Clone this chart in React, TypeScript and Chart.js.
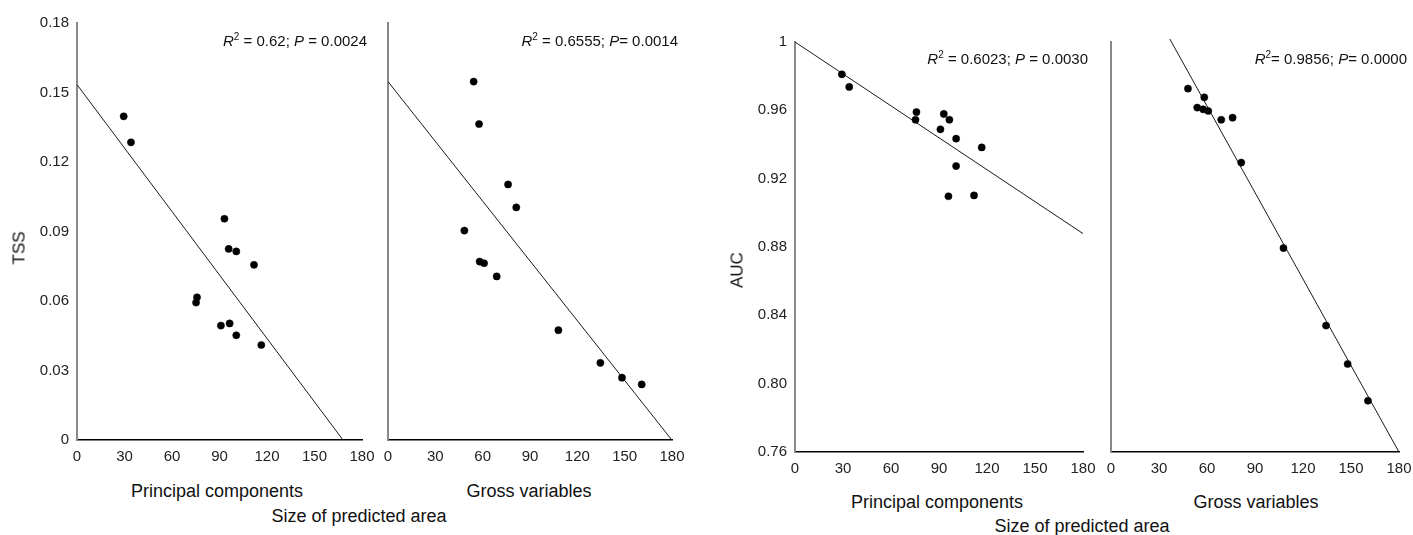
import React, { useEffect, useRef } from 'react';
import { Chart, registerables } from 'chart.js';

Chart.register(...registerables);

// ---------- data ----------
const xTickValues = [0, 30, 60, 90, 120, 150, 180];
const xTickLabels = ['0', '30', '60', '90', '120', '150', '180'];
const tssTickValues = [0, 0.03, 0.06, 0.09, 0.12, 0.15, 0.18];
const tssTickLabels = ['0', '0.03', '0.06', '0.09', '0.12', '0.15', '0.18'];
const aucTickValues = [0.76, 0.8, 0.84, 0.88, 0.92, 0.96, 1];
const aucTickLabels = ['0.76', '0.80', '0.84', '0.88', '0.92', '0.96', '1'];

const tssPcX = [29.5, 34.1, 93.1, 95.8, 100.6, 111.8, 75.8, 75.2, 90.9, 96.4, 100.6, 116.4];
const tssPcY = [0.1397, 0.1285, 0.0955, 0.0825, 0.0814, 0.0756, 0.0616, 0.0593, 0.0494, 0.0503, 0.0452, 0.041];

const tssGvX = [54.3, 57.7, 76.1, 81.3, 48.4, 58.1, 60.9, 68.9, 108.0, 134.6, 148.3, 160.8];
const tssGvY = [0.1547, 0.1364, 0.1103, 0.1004, 0.0904, 0.077, 0.0763, 0.0706, 0.0474, 0.0333, 0.0269, 0.024];

const aucPcX = [29.3, 33.9, 75.9, 75.3, 93.0, 96.5, 90.9, 100.7, 116.7, 100.7, 95.9, 111.9];
const aucPcY = [0.9811, 0.9737, 0.959, 0.9545, 0.9579, 0.9545, 0.9489, 0.9434, 0.9383, 0.9274, 0.9097, 0.9102];

const aucGvX = [48.1, 58.3, 53.9, 57.6, 60.8, 68.9, 76.0, 81.4, 107.8, 134.4, 147.9, 160.6];
const aucGvY = [0.9727, 0.9676, 0.9616, 0.9606, 0.9596, 0.9545, 0.9557, 0.9294, 0.8794, 0.834, 0.8115, 0.79];

// regression fits: [intercept, slope]
const tssPcFit = [0.1534, -0.000913];
const tssGvFit = [0.1547, -0.00086];
const aucPcFit = [1.0, -0.000623];
const aucGvFit = [1.0638, -0.001688];
const fitXRange = [0, 180];

// annotation texts: [R, sup, middle, P, tail]
const tssPcStats = ['R', '2', ' = 0.62; ', 'P', ' = 0.0024'];
const tssGvStats = ['R', '2', ' = 0.6555; ', 'P', '= 0.0014'];
const aucPcStats = ['R', '2', ' = 0.6023; ', 'P', ' = 0.0030'];
const aucGvStats = ['R', '2', '= 0.9856; ', 'P', '= 0.0000'];

const FONT = "'Liberation Sans', Arial, Helvetica, sans-serif";

type PanelDef = {
  left: number; top: number; width: number; height: number;
  area: { left: number; top: number; right: number; bottom: number };
  showY: boolean;
  yValues: number[]; yLabels: string[];
  xs: number[]; ys: number[]; fit: number[]; stats: string[];
  textRight: number; textBaseline: number;
};

const panels: PanelDef[] = [
  {
    left: 0, top: 0, width: 380, height: 480,
    area: { left: 77, top: 23, right: 362, bottom: 440 },
    showY: true, yValues: tssTickValues, yLabels: tssTickLabels,
    xs: tssPcX, ys: tssPcY, fit: tssPcFit, stats: tssPcStats,
    textRight: 367, textBaseline: 46,
  },
  {
    left: 380, top: 0, width: 330, height: 480,
    area: { left: 388, top: 23, right: 672, bottom: 440 },
    showY: false, yValues: tssTickValues, yLabels: tssTickLabels,
    xs: tssGvX, ys: tssGvY, fit: tssGvFit, stats: tssGvStats,
    textRight: 678, textBaseline: 46,
  },
  {
    left: 710, top: 0, width: 390, height: 480,
    area: { left: 795, top: 42, right: 1083, bottom: 452 },
    showY: true, yValues: aucTickValues, yLabels: aucTickLabels,
    xs: aucPcX, ys: aucPcY, fit: aucPcFit, stats: aucPcStats,
    textRight: 1088, textBaseline: 64,
  },
  {
    left: 1100, top: 0, width: 313, height: 480,
    area: { left: 1111, top: 42, right: 1399, bottom: 452 },
    showY: false, yValues: aucTickValues, yLabels: aucTickLabels,
    xs: aucGvX, ys: aucGvY, fit: aucGvFit, stats: aucGvStats,
    textRight: 1407, textBaseline: 64,
  },
];

function statsPlugin(p: PanelDef) {
  return {
    id: 'statsText',
    afterDraw(chart: any) {
      const ctx = chart.ctx;
      const parts = [
        { t: p.stats[0], f: `italic 15px ${FONT}`, dy: 0 },
        { t: p.stats[1], f: `10px ${FONT}`, dy: -6 },
        { t: p.stats[2], f: `15px ${FONT}`, dy: 0 },
        { t: p.stats[3], f: `italic 15px ${FONT}`, dy: 0 },
        { t: p.stats[4], f: `15px ${FONT}`, dy: 0 },
      ];
      ctx.save();
      let total = 0;
      const widths = parts.map((q) => {
        ctx.font = q.f;
        const w = ctx.measureText(q.t).width;
        total += w;
        return w;
      });
      let x = p.textRight - p.left - total;
      const y = p.textBaseline - p.top;
      ctx.fillStyle = '#111';
      ctx.textBaseline = 'alphabetic';
      ctx.textAlign = 'left';
      parts.forEach((q, i) => {
        ctx.font = q.f;
        ctx.fillText(q.t, x, y + q.dy);
        x += widths[i];
      });
      ctx.restore();
    },
  };
}

function Panel({ p }: { p: PanelDef }) {
  const ref = useRef<HTMLCanvasElement>(null);
  useEffect(() => {
    if (!ref.current) return;
    const yMin = p.yValues[0];
    const yMax = p.yValues[p.yValues.length - 1];
    const yScaleWidth = p.area.left - p.left;
    const xScaleHeight = p.height - (p.area.bottom - p.top);
    const chart = new Chart(ref.current, {
      type: 'scatter',
      data: {
        datasets: [
          {
            type: 'line',
            data: fitXRange.map((x) => ({ x, y: p.fit[0] + p.fit[1] * x })),
            borderColor: '#1a1a1a',
            borderWidth: 1,
            pointRadius: 0,
            showLine: true,
            fill: false,
            clip: { left: 0, top: 3, right: 0, bottom: 0 } as any,
            order: 2,
          } as any,
          {
            type: 'scatter',
            data: p.xs.map((x, i) => ({ x, y: p.ys[i] })),
            backgroundColor: '#000',
            borderColor: '#000',
            borderWidth: 0.5,
            pointRadius: 3.6,
            order: 1,
          },
        ],
      },
      options: {
        animation: false,
        responsive: false,
        devicePixelRatio: 1,
        events: [],
        layout: {
          padding: {
            left: 0,
            top: p.area.top - p.top,
            right: p.left + p.width - p.area.right,
            bottom: 0,
          },
        },
        plugins: { legend: { display: false }, tooltip: { enabled: false } },
        scales: {
          x: {
            type: 'linear',
            min: 0,
            max: 180,
            grid: {
              display: true,
              drawOnChartArea: false,
              drawTicks: true,
              tickLength: 8,
              tickColor: 'rgba(0,0,0,0)',
            },
            border: { display: true, color: '#000', width: 1.5 },
            afterBuildTicks: (s: any) => {
              s.ticks = xTickValues.map((v) => ({ value: v }));
            },
            afterFit: (s: any) => {
              s.height = xScaleHeight;
              s.paddingLeft = 0;
              s.paddingRight = 0;
            },
            ticks: {
              padding: 0,
              color: '#222',
              font: { family: FONT, size: 15 },
              maxRotation: 0,
              callback: (v: any) => {
                const i = xTickValues.indexOf(Number(v));
                return i >= 0 ? xTickLabels[i] : '';
              },
            },
          },
          y: {
            type: 'linear',
            min: yMin,
            max: yMax,
            grid: { display: false, drawTicks: false },
            border: { display: true, color: '#888', width: 2 },
            afterBuildTicks: (s: any) => {
              s.ticks = p.yValues.map((v) => ({ value: v }));
            },
            afterFit: (s: any) => {
              s.width = yScaleWidth;
              s.paddingTop = 0;
              s.paddingBottom = 0;
            },
            ticks: {
              display: p.showY,
              padding: 8,
              color: '#222',
              font: { family: FONT, size: 15 },
              callback: (v: any, idx: number) => p.yLabels[idx] ?? '',
            },
          },
        },
      },
      plugins: [statsPlugin(p)],
    });
    return () => chart.destroy();
  }, [p]);
  return (
    <canvas
      ref={ref}
      width={p.width}
      height={p.height}
      style={{ position: 'absolute', left: p.left, top: p.top, width: p.width, height: p.height }}
    />
  );
}

type Lbl = { text: string; x: number; baseline: number; size: number };

const labels: Lbl[] = [
  { text: 'Principal components', x: 217, baseline: 497, size: 18 },
  { text: 'Gross variables', x: 529, baseline: 497, size: 18 },
  { text: 'Size of predicted area', x: 359, baseline: 522, size: 18 },
  { text: 'Principal components', x: 937, baseline: 508, size: 18 },
  { text: 'Gross variables', x: 1256, baseline: 508, size: 18 },
  { text: 'Size of predicted area', x: 1082, baseline: 532, size: 18 },
];

const yTitles = [
  { text: 'TSS', cx: 19, cy: 248, size: 17 },
  { text: 'AUC', cx: 737, cy: 270, size: 17 },
];

export default function App() {
  return (
    <div
      style={{
        position: 'absolute',
        left: 0,
        top: 0,
        width: 1413,
        height: 535,
        background: '#fff',
        overflow: 'hidden',
        fontFamily: FONT,
        color: '#111',
      }}
    >
      {panels.map((p, i) => (
        <Panel key={i} p={p} />
      ))}
      {labels.map((l, i) => (
        <div
          key={'l' + i}
          style={{
            position: 'absolute',
            left: l.x,
            top: l.baseline - Math.round(l.size * 0.83),
            fontSize: l.size,
            lineHeight: `${l.size}px`,
            whiteSpace: 'nowrap',
            transform: 'translateX(-50%)',
          }}
        >
          {l.text}
        </div>
      ))}
      {yTitles.map((t, i) => (
        <div
          key={'t' + i}
          style={{
            position: 'absolute',
            left: t.cx,
            top: t.cy,
            fontSize: t.size,
            lineHeight: `${t.size}px`,
            whiteSpace: 'nowrap',
            transform: 'translate(-50%, -50%) rotate(-90deg)',
          }}
        >
          {t.text}
        </div>
      ))}
    </div>
  );
}
